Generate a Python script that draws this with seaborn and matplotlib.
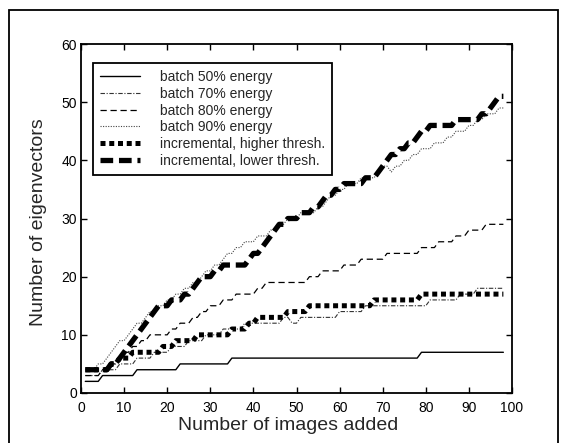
import matplotlib
matplotlib.use("Agg")
import matplotlib.pyplot as plt
from matplotlib.patches import Rectangle
import seaborn as sns
import pandas as pd

# ---- data ----
images_added = list(range(1, 99))

batch_50 = [2, 2, 2, 2,
            3, 3, 3, 3, 3, 3, 3, 3,
            4, 4, 4, 4, 4, 4, 4, 4, 4, 4,
            5, 5, 5, 5, 5, 5, 5, 5, 5, 5, 5, 5,
            6, 6, 6, 6, 6, 6, 6, 6, 6, 6, 6, 6, 6, 6, 6, 6, 6, 6, 6, 6, 6, 6,
            6, 6, 6, 6, 6, 6, 6, 6, 6, 6, 6, 6, 6, 6, 6, 6, 6, 6, 6, 6, 6, 6,
            7, 7, 7, 7, 7, 7, 7, 7, 7, 7, 7, 7, 7, 7, 7, 7, 7, 7, 7, 7]

batch_70 = [3, 3, 3, 3, 4, 4, 4, 4, 5, 5, 5, 5, 6, 6, 6, 6, 7, 7, 7, 7,
            8, 8, 8, 8, 9, 9, 9, 9, 10, 10, 10, 10, 11, 11, 11, 11, 11,
            12, 12, 12, 12, 12, 12, 12, 12, 12, 13, 13, 12, 12,
            13, 13, 13, 13, 13, 13, 13, 13, 13, 14, 14, 14, 14, 14, 14,
            15, 15, 15, 15, 15, 15, 15, 15, 15, 15, 15, 15, 15, 15, 15,
            16, 16, 16, 16, 16, 16, 16, 17, 17, 17, 17,
            18, 18, 18, 18, 18, 18, 18]

batch_80 = [3, 3, 3, 3, 4, 4, 5, 5, 6, 7, 7, 8, 8, 9, 9,
            10, 10, 10, 10, 10, 11, 11, 12, 12, 12, 13, 13, 14, 14,
            15, 15, 15, 16, 16, 16, 17, 17, 17, 17, 17, 18, 18,
            19, 19, 19, 19, 19, 19, 19, 19, 19, 19, 20, 20, 20,
            21, 21, 21, 21, 21, 22, 22, 22, 22, 23, 23, 23, 23, 23, 23,
            24, 24, 24, 24, 24, 24, 24, 24, 25, 25, 25, 25, 26, 26, 26, 26,
            27, 27, 27, 28, 28, 28, 28, 29, 29, 29, 29, 29]

batch_90 = [4, 4, 4, 5, 5, 6, 7, 8, 9, 9,
            10, 11, 12, 12, 13, 14, 14, 15, 15, 16,
            16, 17, 17, 18, 18, 19, 19, 20, 21, 21,
            22, 22, 23, 24, 24, 25, 25, 26, 26, 26,
            27, 27, 27, 28, 28, 29, 29, 30, 30, 30,
            31, 31, 31, 31, 32, 32, 33, 34, 34, 35,
            35, 36, 36, 36, 37, 37, 37, 37, 38, 39,
            39, 38, 39, 39, 40, 40, 41, 41, 42, 42,
            42, 43, 43, 43, 44, 44, 45, 45, 45, 46,
            46, 47, 47, 48, 48, 48, 49, 49]

incr_higher = [4, 4, 4, 4, 4, 4, 5, 5, 6, 6, 6, 7, 7, 7, 7, 7, 7, 7,
               8, 8, 8, 9, 9, 9, 9, 9, 10, 10, 10, 10, 10, 10, 10, 10,
               11, 11, 11, 11, 12, 12, 13, 13, 13, 13, 13, 13, 13,
               14, 14, 14, 14, 14,
               15, 15, 15, 15, 15, 15, 15, 15, 15, 15, 15, 15, 15, 15, 15,
               16, 16, 16, 16, 16, 16, 16, 16, 16, 16, 16,
               17, 17, 17, 17, 17, 17, 17, 17, 17, 17, 17, 17, 17, 17, 17, 17, 17, 17, 17, 17]

incr_lower = [4, 4, 4, 4, 4, 4, 5, 5, 6, 7,
              8, 9, 10, 11, 12, 13, 14, 15, 15, 15,
              16, 16, 16, 17, 17, 18, 19, 20, 20, 20,
              21, 21, 22, 22, 22, 22, 22, 22, 23, 24,
              24, 25, 26, 27, 28, 29, 29, 30, 30, 30,
              31, 31, 31, 32, 32, 33, 34, 34, 35, 35,
              36, 36, 36, 36, 36, 37, 37, 37, 38, 39,
              40, 41, 41, 42, 42, 43, 43, 44, 45, 45,
              46, 46, 46, 46, 46, 46, 47, 47, 47, 47,
              47, 47, 48, 48, 49, 50, 51, 51]

series_labels = ["batch 50% energy", "batch 70% energy", "batch 80% energy",
                 "batch 90% energy", "incremental, higher thresh.",
                 "incremental, lower thresh."]
x_ticks = [0, 10, 20, 30, 40, 50, 60, 70, 80, 90, 100]
y_ticks = [0, 10, 20, 30, 40, 50, 60]

# ---- style ----
sns.set_style("ticks")
plt.rcParams["font.family"] = ["Liberation Sans", "DejaVu Sans"]

W, H = 566, 443
fig = plt.figure(figsize=(W / 100, H / 100), dpi=100)
L, R, T, B = 81, 512, 44, 393
ax = fig.add_axes([L / W, 1 - B / H, (R - L) / W, (B - T) / H])

# outer frame of the scanned figure
fig.add_artist(Rectangle((9 / W, -0.05), (558 - 9) / W, 1.05 - 10 / H,
                         transform=fig.transFigure, fill=False,
                         edgecolor="black", linewidth=1.3, clip_on=False))

styles = [
    dict(lw=1.0, ls="-", color="black"),
    dict(lw=0.8, ls=(0, (4, 1.5, 1, 1.5)), color="#333333"),
    dict(lw=0.9, ls=(0, (5, 3)), color="black"),
    dict(lw=0.8, ls=(0, (1, 1.3)), color="#444444"),
    dict(lw=3.6, ls=(0, (1.0, 0.75)), color="black"),
    dict(lw=3.8, ls=(0, (2.4, 1.1)), color="black"),
]
all_series = [batch_50, batch_70, batch_80, batch_90, incr_higher, incr_lower]

for vals, lab, st in zip(all_series, series_labels, styles):
    df = pd.DataFrame({"images": images_added, "eig": vals})
    sns.lineplot(data=df, x="images", y="eig", ax=ax, label=lab,
                 color=st["color"], linewidth=st["lw"], linestyle=st["ls"])

ax.set_xlim(0, 100)
ax.set_ylim(0, 60)
ax.set_xticks(x_ticks)
ax.set_yticks(y_ticks)
ax.tick_params(direction="in", length=4, width=1, top=True, right=True,
               labelsize=10, colors="black")
ax.tick_params(axis="x", pad=5.5)
ax.tick_params(axis="y", pad=3)
for sp in ax.spines.values():
    sp.set_visible(True)
    sp.set_linewidth(1.3)
    sp.set_color("black")

ax.set_xlabel("Number of images added", fontsize=14)
ax.xaxis.set_label_coords((288 - L) / (R - L), -(417 - B) / (B - T),
                          transform=ax.transAxes)
ax.xaxis.label.set_verticalalignment("top")
ax.set_ylabel("Number of eigenvectors", fontsize=14)
ax.yaxis.set_label_coords(-(L - 47) / (R - L), 0.49, transform=ax.transAxes)

leg = ax.legend(loc="upper left", bbox_to_anchor=((93 - L) / (R - L), (B - 63) / (B - T)),
                fontsize=10, frameon=True, fancybox=False,
                edgecolor="black", framealpha=1, handlelength=2.9,
                handletextpad=1.4, labelspacing=0.2, borderpad=0.5,
                borderaxespad=0)
leg.get_frame().set_linewidth(1.3)

fig.savefig("out.png", dpi=100)
